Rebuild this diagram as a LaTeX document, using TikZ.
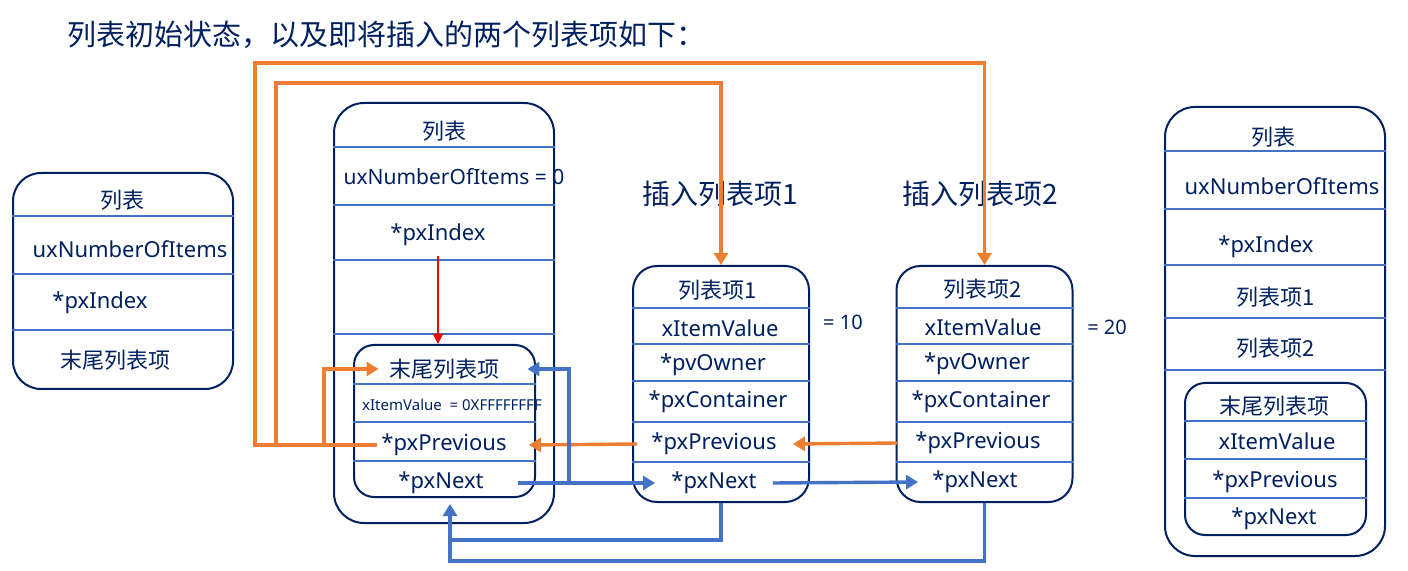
\documentclass[tikz,border=0pt]{standalone}
\usepackage{fontspec}
\setmainfont{Noto Sans}
\newfontfamily\cjk{Noto Sans CJK SC}
\usepackage{tikz}
\usetikzlibrary{arrows.meta,calc}

\definecolor{navy}{RGB}{0,32,96}
\definecolor{rowblue}{RGB}{68,114,196}
\definecolor{ptrorange}{RGB}{237,125,49}
\definecolor{ptrblue}{RGB}{68,114,196}

\begin{document}
\begin{tikzpicture}[
  x=0.5pt, y=-0.5pt,
  every node/.style={text=navy},
  boxframe/.style={draw=navy, line width=1pt, inner sep=0pt},
  fld/.style={font=\fontsize{11}{13}\selectfont, inner sep=2pt},
  cjkfld/.style={font=\cjk\fontsize{11}{13}\selectfont, inner sep=2pt},
  tinyfld/.style={font=\fontsize{7.5}{9}\selectfont, inner sep=1pt},
  divider/.style={draw=rowblue, line width=0.6pt},
  optr/.style={draw=ptrorange, line width=1.7pt},
  bptr/.style={draw=ptrblue, line width=1.7pt},
  ptrtip/.style={-{Triangle[length=6pt,width=7pt]}}
]
\useasboundingbox (0,0) rectangle (1408,571);

\node[font=\cjk\fontsize{14.5}{17}\selectfont, anchor=west] (title) at (60,35) {列表初始状态，以及即将插入的两个列表项如下：};

% frames
\node[boxframe, rounded corners=14pt, minimum width=110pt, minimum height=108pt] (L) at (123,281) {};
\node[boxframe, rounded corners=15pt, minimum width=110pt, minimum height=210pt] (M) at (444,313) {};
\node[boxframe, rounded corners=10pt, minimum width=90.5pt, minimum height=76pt] (E) at (444.5,421) {};
\node[boxframe, rounded corners=12pt, minimum width=88pt, minimum height=118pt] (I1) at (721,384) {};
\node[boxframe, rounded corners=12pt, minimum width=88pt, minimum height=118pt] (I2) at (984.5,384) {};
\node[boxframe, rounded corners=15pt, minimum width=110pt, minimum height=224.5pt] (R) at (1275,331.5) {};
\node[boxframe, rounded corners=10pt, minimum width=90.5pt, minimum height=76pt] (RE) at (1275.5,459) {};

% row dividers
\foreach \y in {216,274,330} \draw[divider] (L.west |- 0,\y) -- (L.east |- 0,\y);
\foreach \y in {147,205,260,334} \draw[divider] (M.west |- 0,\y) -- (M.east |- 0,\y);
\foreach \y in {384,422,461} \draw[divider] (E.west |- 0,\y) -- (E.east |- 0,\y);
\foreach \y in {308,344,381,422,462} {
  \draw[divider] (I1.west |- 0,\y) -- (I1.east |- 0,\y);
  \draw[divider] (I2.west |- 0,\y) -- (I2.east |- 0,\y);
}
\foreach \y in {151,209,265,318,370} \draw[divider] (R.west |- 0,\y) -- (R.east |- 0,\y);
\foreach \y in {421,459,498} \draw[divider] (RE.west |- 0,\y) -- (RE.east |- 0,\y);

% list (left)
\node[cjkfld] (lt)   at (122,200) {列表};
\node[fld]    (lnum) at (130,249) {uxNumberOfItems};
\node[fld]    (lidx) at (100,303) {*pxIndex};
\node[cjkfld] (lend) at (115,360) {末尾列表项};

% list (initial)
\node[cjkfld] (mt)   at (444,131) {列表};
\node[fld, font=\fontsize{10.5}{12}\selectfont] (mnum) at (454,177) {uxNumberOfItems = 0};
\node[fld]    (midx) at (438,235) {*pxIndex};
\node[cjkfld] (et)    at (444,369) {末尾列表项};
\node[tinyfld] (eval) at (452,405) {xItemValue\ \ = 0XFFFFFFFF};
\node[fld]    (eprev) at (444,445) {*pxPrevious};
\node[fld]    (enext) at (441,483) {*pxNext};

% item 1
\node[font=\cjk\fontsize{14}{17}\selectfont] (h1) at (720,194) {插入列表项1};
\node[cjkfld] (it1)    at (718,290) {列表项1};
\node[fld]    (ival1)  at (720,328) {xItemValue};
\node[fld]    (iown1)  at (713,365) {*pvOwner};
\node[fld]    (icon1)  at (718,402) {*pxContainer};
\node[fld]    (iprev1) at (714,444) {*pxPrevious};
\node[fld]    (inext1) at (714,483) {*pxNext};
\node[fld, font=\fontsize{10}{12}\selectfont] (v1) at (843,322) {= 10};

% item 2
\node[font=\cjk\fontsize{14}{17}\selectfont] (h2) at (980,194) {插入列表项2};
\node[cjkfld] (it2)    at (983,289) {列表项2};
\node[fld]    (ival2)  at (983,327) {xItemValue};
\node[fld]    (iown2)  at (977,364) {*pvOwner};
\node[fld]    (icon2)  at (981,402) {*pxContainer};
\node[fld]    (iprev2) at (978,443) {*pxPrevious};
\node[fld]    (inext2) at (975,482) {*pxNext};
\node[fld, font=\fontsize{10}{12}\selectfont] (v2) at (1107,327) {= 20};

% list (right)
\node[cjkfld] (rt)     at (1273,137) {列表};
\node[fld]    (rnum)   at (1282,186) {uxNumberOfItems};
\node[fld]    (ridx)   at (1266,247) {*pxIndex};
\node[cjkfld] (ri1)    at (1276,297) {列表项1};
\node[cjkfld] (ri2)    at (1276,348) {列表项2};
\node[cjkfld] (ret)    at (1274,406) {末尾列表项};
\node[fld]    (reval)  at (1277,441) {xItemValue};
\node[fld]    (reprev) at (1275,482) {*pxPrevious};
\node[fld]    (renext) at (1274,519) {*pxNext};

% orange pointers
\coordinate (o1) at (255,63);
\coordinate (o2) at (276,83);
\draw[optr, ptrtip] (eprev.west) -| (o1) -| (I2.north);
\draw[optr, ptrtip] (eprev.west) -| (o2) -| (I1.north);
\draw[optr, ptrtip] (eprev.west) -- ++(-53,0) |- ([xshift=-3pt]et.west);
\draw[optr, ptrtip] ([xshift=-5pt]iprev1.west) -- ([xshift=9pt]eprev.east);
\draw[optr, ptrtip] ([xshift=-7pt]iprev2.west) -- ([xshift=6pt]iprev1.east);

% blue pointers
\draw[bptr, ptrtip] ([xshift=15pt]enext.east) -- ([xshift=-6pt]inext1.west);
\draw[bptr, ptrtip] ([xshift=15pt]enext.east) -- ++(51,0) |- ([xshift=12pt]et.east);
\draw[bptr, ptrtip] ([xshift=6pt]inext1.east) -- ([xshift=-5pt]inext2.west);
\coordinate (bj) at (450,540);
\draw[bptr] (I1.south) |- (bj);
\draw[bptr, ptrtip] (I2.south) -- ++(0,58) -| ([xshift=2.75pt,yshift=-3pt]E.south);

% pxIndex
\draw[draw=red, line width=0.6pt, -{Triangle[length=5pt,width=5pt]}] ([yshift=-3pt]midx.south) -- (midx.south |- E.north);
\end{tikzpicture}
\end{document}
